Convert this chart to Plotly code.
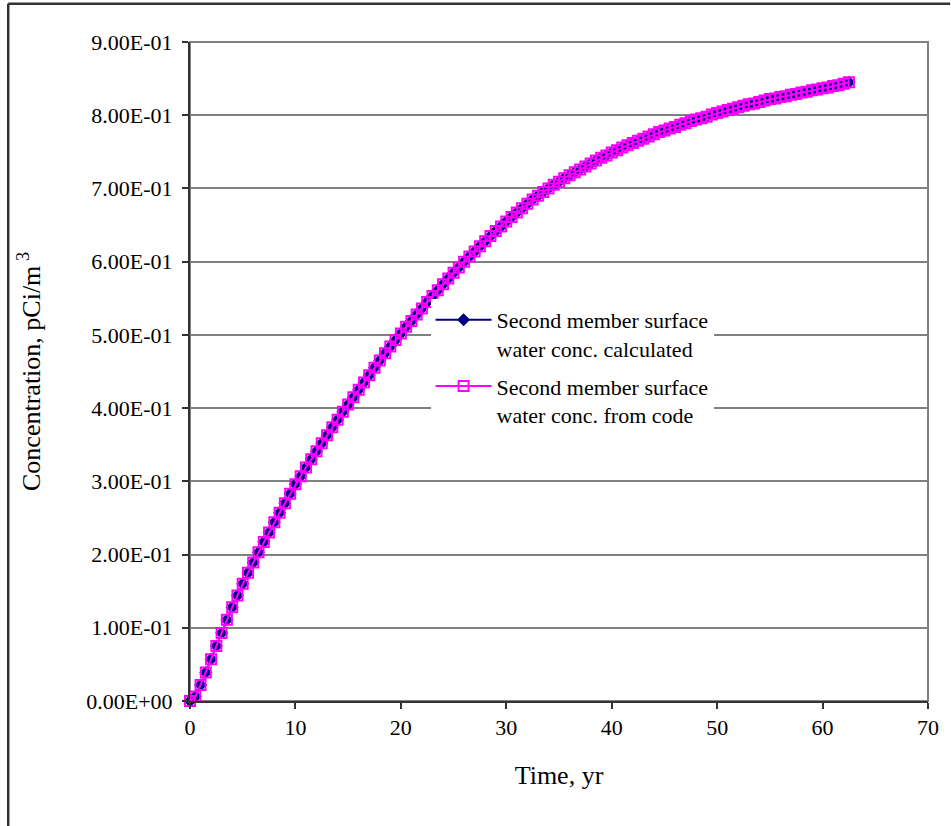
# ================================================================
# 0. Section: IMPORTS
# ================================================================
import plotly.graph_objects as go



# ================================================================
# 1. Section: DATA
# ================================================================
TIME_YR: list = [
    0.0, 0.5, 1.0, 1.5, 2.0, 2.5, 3.0, 3.5, 4.0, 4.5,
    5.0, 5.5, 6.0, 6.5, 7.0, 7.5, 8.0, 8.5, 9.0, 9.5,
    10.0, 10.5, 11.0, 11.5, 12.0, 12.5, 13.0, 13.5, 14.0, 14.5,
    15.0, 15.5, 16.0, 16.5, 17.0, 17.5, 18.0, 18.5, 19.0, 19.5,
    20.0, 20.5, 21.0, 21.5, 22.0, 22.5, 23.0, 23.5, 24.0, 24.5,
    25.0, 25.5, 26.0, 26.5, 27.0, 27.5, 28.0, 28.5, 29.0, 29.5,
    30.0, 30.5, 31.0, 31.5, 32.0, 32.5, 33.0, 33.5, 34.0, 34.5,
    35.0, 35.5, 36.0, 36.5, 37.0, 37.5, 38.0, 38.5, 39.0, 39.5,
    40.0, 40.5, 41.0, 41.5, 42.0, 42.5, 43.0, 43.5, 44.0, 44.5,
    45.0, 45.5, 46.0, 46.5, 47.0, 47.5, 48.0, 48.5, 49.0, 49.5,
    50.0, 50.5, 51.0, 51.5, 52.0, 52.5, 53.0, 53.5, 54.0, 54.5,
    55.0, 55.5, 56.0, 56.5, 57.0, 57.5, 58.0, 58.5, 59.0, 59.5,
    60.0, 60.5, 61.0, 61.5, 62.0, 62.5,
]

# second member surface water conc., calculated (pCi/m3)
CONC_CALCULATED: list = [
    0.000, 0.006, 0.022, 0.039, 0.057, 0.075, 0.093, 0.111, 0.128, 0.144,
    0.160, 0.175, 0.189, 0.203, 0.217, 0.230, 0.244, 0.257, 0.270, 0.283,
    0.296, 0.307, 0.319, 0.330, 0.341, 0.352, 0.363, 0.374, 0.384, 0.395,
    0.405, 0.415, 0.425, 0.435, 0.445, 0.455, 0.465, 0.475, 0.484, 0.493,
    0.502, 0.511, 0.519, 0.528, 0.536, 0.545, 0.553, 0.561, 0.569, 0.577,
    0.585, 0.592, 0.600, 0.607, 0.614, 0.621, 0.628, 0.635, 0.642, 0.648,
    0.655, 0.661, 0.667, 0.673, 0.679, 0.685, 0.690, 0.695, 0.700, 0.705,
    0.709, 0.714, 0.718, 0.722, 0.726, 0.730, 0.734, 0.738, 0.742, 0.745,
    0.749, 0.752, 0.756, 0.759, 0.762, 0.765, 0.768, 0.771, 0.774, 0.777,
    0.779, 0.782, 0.784, 0.787, 0.789, 0.792, 0.794, 0.796, 0.798, 0.801,
    0.803, 0.805, 0.807, 0.809, 0.811, 0.813, 0.815, 0.816, 0.818, 0.820,
    0.822, 0.823, 0.825, 0.826, 0.828, 0.829, 0.831, 0.832, 0.834, 0.835,
    0.837, 0.838, 0.840, 0.841, 0.843, 0.845,
]

# second member surface water conc., from code (pCi/m3) - overlays the calculated one
CONC_FROM_CODE: list = [
    0.000, 0.006, 0.022, 0.039, 0.057, 0.075, 0.093, 0.111, 0.128, 0.144,
    0.160, 0.175, 0.189, 0.203, 0.217, 0.230, 0.244, 0.257, 0.270, 0.283,
    0.296, 0.307, 0.319, 0.330, 0.341, 0.352, 0.363, 0.374, 0.384, 0.395,
    0.405, 0.415, 0.425, 0.435, 0.445, 0.455, 0.465, 0.475, 0.484, 0.493,
    0.502, 0.511, 0.519, 0.528, 0.536, 0.545, 0.553, 0.561, 0.569, 0.577,
    0.585, 0.592, 0.600, 0.607, 0.614, 0.621, 0.628, 0.635, 0.642, 0.648,
    0.655, 0.661, 0.667, 0.673, 0.679, 0.685, 0.690, 0.695, 0.700, 0.705,
    0.709, 0.714, 0.718, 0.722, 0.726, 0.730, 0.734, 0.738, 0.742, 0.745,
    0.749, 0.752, 0.756, 0.759, 0.762, 0.765, 0.768, 0.771, 0.774, 0.777,
    0.779, 0.782, 0.784, 0.787, 0.789, 0.792, 0.794, 0.796, 0.798, 0.801,
    0.803, 0.805, 0.807, 0.809, 0.811, 0.813, 0.815, 0.816, 0.818, 0.820,
    0.822, 0.823, 0.825, 0.826, 0.828, 0.829, 0.831, 0.832, 0.834, 0.835,
    0.837, 0.838, 0.840, 0.841, 0.843, 0.845,
]

Y_TICK_VALUES: list = [0.0, 0.1, 0.2, 0.3, 0.4, 0.5, 0.6, 0.7, 0.8, 0.9]
Y_TICK_LABELS: list = [
    "0.00E+00", "1.00E-01", "2.00E-01", "3.00E-01", "4.00E-01",
    "5.00E-01", "6.00E-01", "7.00E-01", "8.00E-01", "9.00E-01",
]
X_TICK_VALUES: list = [0, 10, 20, 30, 40, 50, 60, 70]

NAME_CALCULATED: str = "Second member surface<br>water conc. calculated"
NAME_FROM_CODE: str = "Second member surface<br>water conc. from code"



# ================================================================
# 2. Section: STYLE
# ================================================================
WIDTH, HEIGHT = 951, 826
MARGIN = dict(l=190, r=18, t=42, b=125)
FONT = dict(family="Liberation Serif, Times New Roman, serif", size=22, color="#000000")

NAVY = "#000080"
MAGENTA = "#FF00FF"
GRID = "#808080"
AXIS = "#333333"

# drop the browser's default 8px body margin so the figure sits at (0, 0)
POST_JS = "document.body.style.margin='0';document.body.style.padding='0';"

# outer chart frame (paper units, only the left and top edges are in view)
FRAME_LEFT, FRAME_TOP = -0.2463, 1.058
FRAME_RIGHT, FRAME_BOTTOM = 1.03, -0.25



# ================================================================
# 3. Section: MAIN
# ================================================================
if __name__ == "__main__":
    fig = go.Figure()

    # navy diamonds - calculated
    fig.add_trace(go.Scatter(
        x=TIME_YR, y=CONC_CALCULATED,
        mode="lines+markers",
        name=NAME_CALCULATED,
        legendgroup="calc",
        line=dict(color=NAVY, width=2),
        marker=dict(symbol="diamond", size=10, color=NAVY),
        cliponaxis=False,
    ))

    # magenta open squares - from code
    fig.add_trace(go.Scatter(
        x=TIME_YR, y=CONC_FROM_CODE,
        mode="lines+markers",
        name=NAME_FROM_CODE,
        legendgroup="code",
        line=dict(color=MAGENTA, width=2),
        marker=dict(symbol="square-open", size=10, color=MAGENTA,
                    line=dict(color=MAGENTA, width=2)),
        cliponaxis=False,
    ))

    # plot-area border (grey)
    fig.add_shape(type="rect", xref="paper", yref="paper",
                  x0=0, x1=1, y0=0, y1=1,
                  line=dict(color=GRID, width=2), layer="below")

    # outer chart frame: left and top edges
    fig.add_shape(type="line", xref="paper", yref="paper",
                  x0=FRAME_LEFT, x1=FRAME_LEFT, y0=FRAME_BOTTOM, y1=FRAME_TOP,
                  line=dict(color=AXIS, width=2.5), layer="below")
    fig.add_shape(type="line", xref="paper", yref="paper",
                  x0=FRAME_LEFT, x1=FRAME_RIGHT, y0=FRAME_TOP, y1=FRAME_TOP,
                  line=dict(color=AXIS, width=2.5), layer="below")

    fig.update_layout(
        width=WIDTH, height=HEIGHT,
        margin=MARGIN,
        font=FONT,
        paper_bgcolor="white",
        plot_bgcolor="white",
        showlegend=True,
        legend=dict(
            x=0.326, y=0.61, xanchor="left", yanchor="top",
            bgcolor="white",
            font=dict(size=22),
            valign="top",
            tracegroupgap=6,
            itemwidth=56,
        ),
        xaxis=dict(
            title=dict(text="Time, yr", standoff=26),
            range=[0, 70],
            tickvals=X_TICK_VALUES,
            ticks="outside", ticklen=6, tickwidth=1.5, tickcolor=AXIS,
            showline=True, linecolor=AXIS, linewidth=2,
            showgrid=False, zeroline=False,
            ticklabelstandoff=0,
        ),
        yaxis=dict(
            title=dict(text="Concentration, pCi/m<sup> 3</sup>", standoff=38),
            range=[0, 0.9],
            tickvals=Y_TICK_VALUES,
            ticktext=Y_TICK_LABELS,
            ticks="outside", ticklen=6, tickwidth=1.5, tickcolor=AXIS,
            showline=True, linecolor=AXIS, linewidth=2,
            showgrid=True, gridcolor=GRID, gridwidth=2,
            zeroline=False,
            ticklabelstandoff=5,
        ),
    )

    fig.write_html("out.html", post_script=POST_JS,
                   config={"displayModeBar": False})
